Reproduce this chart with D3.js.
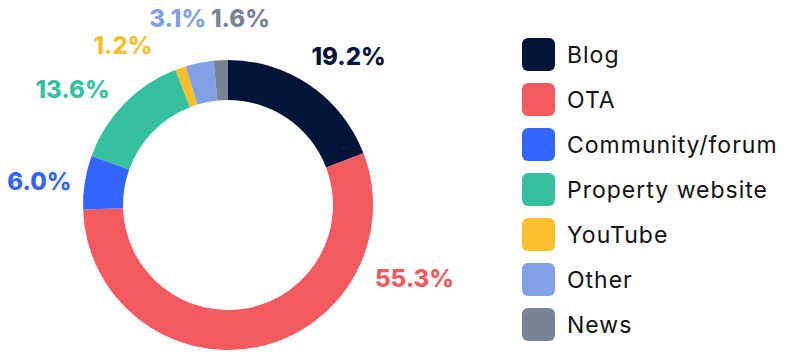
<!DOCTYPE html>
<html>
<head>
<meta charset="utf-8">
<script src="https://cdn.jsdelivr.net/npm/d3@7"></script>
<style>
  html, body { margin: 0; padding: 0; background: #fff; }
  svg { display: block; }
  .label { font-family: Inter, "Open Sans", sans-serif; font-weight: 800; }
  .legend text { font-family: Inter, "Open Sans", sans-serif; font-weight: 400; fill: #111; letter-spacing: 1px; }
</style>
</head>
<body>
<div id="chart"></div>
<script>
const categories = ["Blog", "OTA", "Community/forum", "Property website", "YouTube", "Other", "News"];
const values = [19.2, 55.3, 6.0, 13.6, 1.2, 3.1, 1.6];
const colors = ["#021538", "#f35a60", "#3365fe", "#35c1a0", "#fbbf2e", "#80a0e7", "#798394"];

// where each percentage sits (degrees clockwise from top, distance from centre)
const labelAngle = [39, 111.4, 277.1, 306.5, 326.7, 344.9, 3.8];
const labelRadius = [191.6, 200.3, 190, 193.4, 191.4, 193.2, 186.9];

const w = 800, h = 358;
const cx = 228, cy = 205;
const outerR = 145, innerR = 105;

const svg = d3.select("#chart")
              .append("svg")
              .attr("width", w)
              .attr("height", h);

const pie = d3.pie().sort(null).value(d => d.value);
const arc = d3.arc().innerRadius(innerR).outerRadius(outerR);

const data = categories.map((c, i) => ({name: c, value: values[i], color: colors[i], i: i}));

const g = svg.append("g").attr("transform", "translate(" + cx + "," + cy + ")");

g.selectAll("path")
 .data(pie(data))
 .enter()
 .append("path")
 .attr("d", arc)
 .attr("fill", d => d.data.color);

g.selectAll("text.label")
 .data(data)
 .enter()
 .append("text")
 .attr("class", "label")
 .attr("x", d => labelRadius[d.i] * Math.sin(labelAngle[d.i] * Math.PI / 180))
 .attr("y", d => -labelRadius[d.i] * Math.cos(labelAngle[d.i] * Math.PI / 180))
 .attr("text-anchor", "middle")
 .attr("dominant-baseline", "central")
 .attr("font-size", 24)
 .attr("fill", d => d.color)
 .text(d => d.value.toFixed(1) + "%");

const legend = svg.append("g").attr("class", "legend");
const row = legend.selectAll("g")
  .data(data)
  .enter()
  .append("g")
  .attr("transform", (d, i) => "translate(522," + (38 + i * 45) + ")");

row.append("rect")
   .attr("width", 33)
   .attr("height", 33)
   .attr("rx", 6)
   .attr("fill", d => d.color);

row.append("text")
   .attr("x", 45)
   .attr("y", 17)
   .attr("dominant-baseline", "central")
   .attr("font-size", 23)
   .text(d => d.name);
</script>
</body>
</html>
